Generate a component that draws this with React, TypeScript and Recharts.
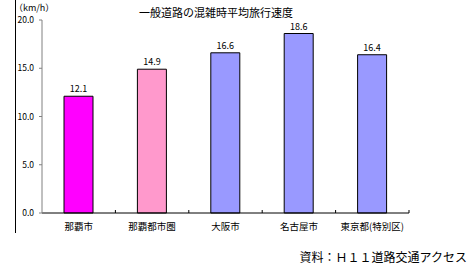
import React from "react";
import { BarChart, Bar, XAxis, YAxis, Cell, LabelList } from "recharts";

const categories = ["那覇市", "那覇都市圏", "大阪市", "名古屋市", "東京都(特別区)"];
const speeds = [12.1, 14.9, 16.6, 18.6, 16.4];
const barColors = ["#FF00FF", "#FF99CC", "#9999FF", "#9999FF", "#9999FF"];
const yTicks = [0, 5, 10, 15, 20];
const title = "一般道路の混雑時平均旅行速度";
const unitLabel = "（km/h）";
const sourceLabel = "資料：Ｈ１１道路交通アクセス";

const data = categories.map((name, i) => ({ name, value: speeds[i] }));

const FONT = '"Noto Sans CJK JP", "Noto Sans", sans-serif';

const CategoryTick = (props: any) => {
  const { x, y, payload } = props;
  const off = payload && typeof payload.offset === "number" ? payload.offset : 0;
  return (
    <g>
      <line x1={x + off} x2={x + off} y1={y} y2={y - 3} stroke="#000" strokeWidth={1} />
      <text x={x} y={y + 17} textAnchor="middle" fontSize={9.5} fontFamily={FONT} fill="#000">
        {payload.value}
      </text>
    </g>
  );
};

export default function App() {
  return (
    <div
      style={{
        position: "absolute",
        left: 0,
        top: 0,
        width: 475,
        height: 270,
        background: "#fff",
        fontFamily: FONT,
        overflow: "hidden",
      }}
    >
      <div
        style={{
          position: "absolute",
          left: 15,
          top: 0,
          width: 1,
          height: 233,
          background: "#000",
        }}
      />
      <div
        style={{
          position: "absolute",
          left: 0,
          width: 432,
          top: 4,
          textAlign: "center",
          fontSize: 11,
          lineHeight: "16px",
          color: "#000",
          whiteSpace: "nowrap",
        }}
      >
        {title}
      </div>
      <div
        style={{
          position: "absolute",
          left: 14,
          top: 2,
          fontSize: 9,
          lineHeight: "11px",
          color: "#000",
          whiteSpace: "nowrap",
        }}
      >
        {unitLabel}
      </div>
      <div
        style={{
          position: "absolute",
          right: 8,
          top: 249,
          fontSize: 12,
          lineHeight: "16px",
          color: "#000",
          whiteSpace: "nowrap",
        }}
      >
        {sourceLabel}
      </div>
      <BarChart
        width={475}
        height={270}
        data={data}
        margin={{ top: 20, right: 66, left: 12, bottom: 27 }}
        barCategoryGap="0%"
      >
        <XAxis
          dataKey="name"
          height={30}
          axisLine={{ stroke: "#000" }}
          tickLine={false}
          tickSize={0}
          tickMargin={0}
          interval={0}
          tick={<CategoryTick />}
        />
        <YAxis
          width={30}
          domain={[0, 20]}
          ticks={yTicks}
          interval={0}
          axisLine={{ stroke: "#808080" }}
          tickLine={{ stroke: "#808080" }}
          tickSize={3}
          tickMargin={5}
          tickFormatter={(v: number) => v.toFixed(1)}
          tick={{ fontSize: 8.5, fill: "#000", fontFamily: FONT }}
        />
        <Bar dataKey="value" barSize={29} stroke="#000" strokeWidth={1} isAnimationActive={false}>
          {data.map((d, i) => (
            <Cell key={d.name} fill={barColors[i]} />
          ))}
          <LabelList
            dataKey="value"
            position="top"
            offset={4}
            fontSize={9}
            fill="#000"
            fontFamily={FONT}
            formatter={(v: any) => Number(v).toFixed(1)}
          />
        </Bar>
      </BarChart>
    </div>
  );
}
